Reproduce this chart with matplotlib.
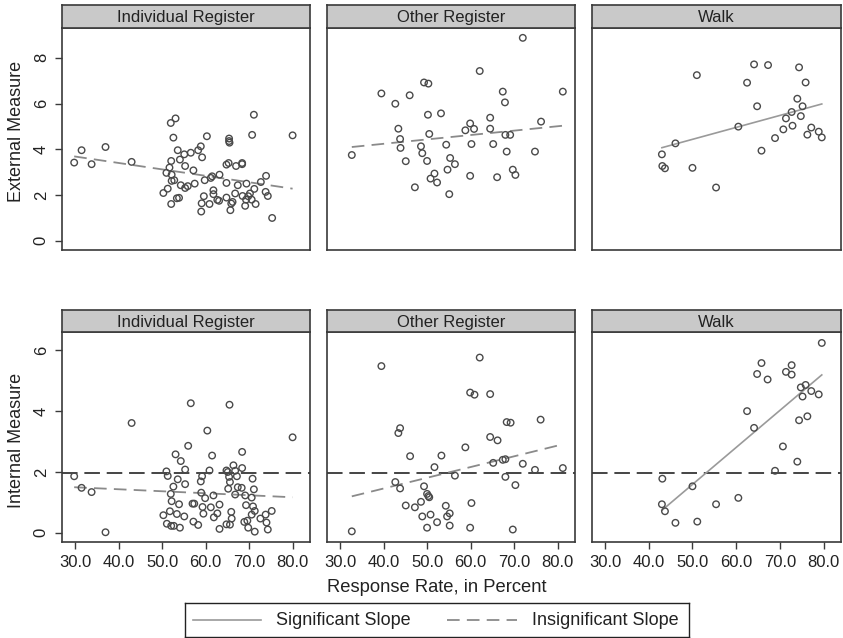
import matplotlib
matplotlib.use("Agg")
import matplotlib.pyplot as plt

plt.rcParams["font.family"] = ["Liberation Sans", "DejaVu Sans"]

W, H = 843, 638

# painel titles
titles = ["Individual Register", "Other Register", "Walk"]

# ---- External measure (top row) ----
ext_ind_x = [29.8, 31.5, 33.8, 37.0, 43.0, 50.3, 51.3, 52.0, 53.1, 52.6, 53.6, 52.1, 51.0, 51.7, 52.2,
             52.8, 52.2, 53.4, 53.9, 52.1, 54.1, 55.1, 55.3, 54.3, 55.3, 55.9, 56.6, 57.2, 57.5, 58.3,
             58.9, 59.2, 59.8, 60.3, 59.6, 59.1, 59.0, 60.9, 61.8, 61.8, 61.2, 61.5, 63.2, 62.7, 63.1,
             64.8, 64.8, 64.8, 65.3, 65.4, 65.4, 65.5, 65.9, 65.7, 66.2, 66.8, 67.0, 67.4, 68.4, 68.4,
             68.5, 69.1, 69.4, 69.3, 69.8, 70.2, 70.6, 70.7, 71.1, 71.2, 71.5, 72.7, 73.9, 73.8, 74.3,
             75.3, 80.0]
ext_ind_y = [3.42, 3.96, 3.35, 4.10, 3.45, 2.09, 2.28, 5.15, 5.35, 4.51, 3.96, 3.49, 2.97, 3.20, 2.89,
             2.65, 2.62, 1.86, 1.88, 1.61, 3.55, 3.78, 3.27, 2.43, 2.31, 2.39, 3.85, 3.08, 2.50, 3.96,
             4.13, 3.65, 2.65, 4.57, 1.95, 1.64, 1.28, 1.61, 2.21, 2.04, 2.75, 2.82, 2.89, 1.79, 1.75,
             1.89, 2.53, 3.33, 3.40, 4.47, 4.36, 4.29, 1.63, 1.34, 1.70, 2.07, 3.27, 2.43, 3.40, 3.35,
             1.96, 1.53, 2.50, 1.80, 1.95, 2.07, 1.80, 4.63, 5.51, 2.27, 1.61, 2.57, 2.84, 2.14, 1.96,
             1.00, 4.61]

ext_oth_x = [32.7, 39.5, 42.7, 46.0, 43.4, 43.8, 43.9, 45.1, 47.2, 49.3, 50.3, 50.2, 50.5, 48.6, 48.9,
             50.0, 51.7, 50.8, 52.3, 53.2, 54.4, 55.3, 56.4, 54.7, 55.1, 58.8, 59.9, 60.8, 60.2, 59.9,
             62.1, 64.5, 64.5, 65.2, 66.1, 67.4, 67.9, 68.0, 69.1, 68.3, 69.7, 70.3, 72.0, 74.8, 76.2,
             81.2]
ext_oth_y = [3.75, 6.44, 5.99, 6.36, 4.90, 4.45, 4.06, 3.48, 2.34, 6.92, 6.87, 5.51, 4.67, 4.13, 3.83,
             3.49, 2.94, 2.72, 2.55, 5.57, 4.20, 3.62, 3.35, 3.11, 2.04, 4.83, 5.13, 4.89, 4.23, 2.84,
             7.42, 5.38, 4.90, 4.23, 2.78, 6.52, 6.05, 4.63, 4.63, 3.90, 3.11, 2.88, 8.87, 3.90, 5.21,
             6.52]

ext_walk_x = [43.0, 43.1, 43.7, 46.1, 50.0, 51.0, 55.4, 60.5, 62.5, 64.1, 64.8, 65.8, 67.3, 68.9, 70.8,
              71.4, 72.7, 72.9, 74.0, 74.4, 74.8, 75.2, 75.9, 76.3, 77.2, 78.9, 79.6]
ext_walk_y = [3.78, 3.27, 3.17, 4.26, 3.19, 7.24, 2.33, 4.99, 6.91, 7.71, 5.88, 3.94, 7.68, 4.49, 4.87,
              5.35, 5.63, 5.03, 6.21, 7.58, 5.45, 5.88, 6.92, 4.64, 4.95, 4.77, 4.52]

# ---- Internal measure (bottom row) ----
int_ind_x = [29.8, 31.5, 33.8, 37.0, 43.0, 50.3, 51.0, 51.3, 51.1, 52.0, 52.2, 51.8, 52.6, 53.1, 53.6,
             53.4, 53.9, 52.1, 52.7, 54.1, 54.3, 55.3, 55.3, 55.1, 56.0, 56.6, 57.0, 57.4, 57.2, 58.3,
             58.9, 59.2, 59.0, 59.3, 59.5, 59.9, 60.4, 60.9, 61.5, 61.8, 61.2, 61.9, 62.7, 63.2, 63.2,
             64.8, 65.1, 65.5, 65.4, 65.2, 65.6, 65.9, 66.0, 64.8, 65.6, 66.4, 66.8, 66.8, 67.2, 67.4,
             68.3, 68.4, 68.4, 69.1, 69.3, 68.9, 69.6, 69.8, 70.6, 70.8, 71.1, 70.6, 70.9, 71.3, 71.3,
             72.6, 73.8, 74.0, 74.3, 75.2, 80.0]
int_ind_y = [1.86, 1.48, 1.34, 0.02, 3.61, 0.58, 2.02, 1.87, 0.30, 1.28, 1.04, 0.71, 1.52, 2.58, 1.76,
             0.62, 0.94, 0.23, 0.23, 0.17, 2.36, 2.08, 1.60, 0.54, 2.86, 4.26, 0.96, 0.96, 0.37, 0.26,
             1.69, 1.86, 1.32, 0.85, 0.63, 1.14, 3.36, 2.05, 2.54, 1.23, 0.84, 0.51, 0.64, 0.93, 0.13,
             2.05, 2.00, 4.21, 1.84, 1.45, 1.67, 0.69, 0.47, 0.28, 0.27, 2.22, 2.04, 1.26, 1.86, 1.50,
             1.48, 2.66, 2.13, 1.23, 0.91, 0.36, 0.40, 0.17, 1.16, 1.78, 1.43, 0.60, 0.87, 0.72, 0.04,
             0.47, 0.60, 0.34, 0.11, 0.72, 3.14]

int_oth_x = [32.7, 39.5, 42.7, 43.8, 43.4, 43.8, 45.1, 46.1, 47.2, 48.6, 48.9, 49.3, 50.0, 50.3, 50.5,
             50.0, 50.8, 51.7, 52.3, 53.3, 54.3, 55.2, 54.6, 55.2, 56.4, 58.8, 59.9, 60.9, 60.2, 59.9,
             62.1, 64.5, 64.5, 66.2, 65.2, 67.4, 68.0, 68.0, 68.3, 69.2, 70.3, 69.7, 72.0, 74.8, 76.1,
             81.2]
int_oth_y = [0.05, 5.48, 1.67, 1.46, 3.28, 3.44, 0.90, 2.52, 0.84, 1.02, 0.54, 1.53, 1.28, 1.21, 1.17,
             0.17, 0.60, 2.16, 0.35, 2.54, 0.89, 0.64, 0.54, 0.24, 1.88, 2.81, 4.61, 4.54, 0.98, 0.17,
             5.76, 4.56, 3.15, 3.04, 2.30, 2.40, 2.42, 1.84, 3.64, 3.62, 1.57, 0.11, 2.27, 2.07, 3.72,
             2.13]

int_walk_x = [43.1, 43.0, 43.7, 46.1, 50.0, 51.1, 55.4, 60.5, 62.5, 64.1, 64.8, 65.8, 67.2, 68.9, 70.7,
              71.4, 72.7, 72.7, 74.0, 74.4, 74.8, 75.2, 75.9, 76.3, 77.2, 78.9, 79.6]
int_walk_y = [1.78, 0.94, 0.71, 0.33, 1.53, 0.37, 0.94, 1.15, 4.00, 3.45, 5.22, 5.58, 5.04, 2.04, 2.84,
              5.29, 5.51, 5.20, 2.34, 3.70, 4.78, 4.48, 4.86, 3.83, 4.66, 4.55, 6.24]

# fitted lines (value at the lowest and highest response rate) and significance
ext_fit = [(3.69, 2.28), (4.10, 5.03), (4.07, 5.98)]
int_fit = [(1.50, 1.17), (1.20, 2.91), (0.74, 5.19)]
ext_sig = [False, False, True]
int_sig = [False, False, True]
ref_line = 1.96

ext_data = [(ext_ind_x, ext_ind_y), (ext_oth_x, ext_oth_y), (ext_walk_x, ext_walk_y)]
int_data = [(int_ind_x, int_ind_y), (int_oth_x, int_oth_y), (int_walk_x, int_walk_y)]

xticks = [30, 40, 50, 60, 70, 80]
legend_labels = ["Significant Slope", "Insignificant Slope"]

fig = plt.figure(figsize=(W / 100, H / 100), dpi=100)


def box(l, t, r, b):
    return [l / W, 1 - b / H, (r - l) / W, (b - t) / H]


cols = [(62, 310), (327, 575), (592, 841)]
rows = [(5, 28, 250), (310, 332, 542)]
frame_col = "#3a3a3a"
txt_col = "#222222"
sig_style = dict(color="#9a9a9a", lw=1.2)
insig_style = dict(color="#8a8a8a", lw=1.3, dashes=(7, 4))

for ri, (strip_top, plot_top, plot_bot) in enumerate(rows):
    data = ext_data if ri == 0 else int_data
    fits = ext_fit if ri == 0 else int_fit
    sigs = ext_sig if ri == 0 else int_sig
    for ci, (l, r) in enumerate(cols):
        ax = fig.add_axes(box(l, plot_top, r, plot_bot))
        xs, ys = data[ci]
        ax.scatter(xs, ys, s=22, facecolors="none", edgecolors="#4a4a4a", linewidths=1.0, zorder=3)
        x0, x1 = min(xs), max(xs)
        if sigs[ci]:
            ax.plot([x0, x1], fits[ci], zorder=2, **sig_style)
        else:
            ax.plot([x0, x1], fits[ci], zorder=2, **insig_style)
        if ri == 1:
            ax.axhline(ref_line, color="#444444", lw=1.4, dashes=(8, 3.5), zorder=1)
            ax.set_ylim(-0.3, 6.6)
            ax.set_yticks([0, 2, 4, 6])
        else:
            ax.set_ylim(-0.4, 9.3)
            ax.set_yticks([0, 2, 4, 6, 8])
        ax.set_xlim(27, 84)
        ax.set_xticks(xticks)
        ax.set_xticklabels(["%.1f" % v for v in xticks])
        for s in ax.spines.values():
            s.set_color(frame_col)
            s.set_linewidth(1.2)
        ax.tick_params(colors=frame_col, labelcolor=txt_col, labelsize=12, length=5, width=1, pad=4.5)
        if ri == 0:
            ax.tick_params(axis="x", bottom=False, labelbottom=False)
        if ci != 0:
            ax.tick_params(axis="y", left=False, labelleft=False)
        else:
            for lab in ax.get_yticklabels():
                lab.set_rotation(90)
                lab.set_va("center")

        # strip header
        st = fig.add_axes(box(l, strip_top, r, plot_top))
        st.set_facecolor("#c9c9c9")
        st.set_xticks([])
        st.set_yticks([])
        for s in st.spines.values():
            s.set_color(frame_col)
            s.set_linewidth(1.2)
        st.text(0.5, 0.45, titles[ci], ha="center", va="center", fontsize=12, color=txt_col,
                transform=st.transAxes)

fig.text(17 / W, 1 - 131 / H, "External Measure", rotation=90, ha="center", va="center",
         fontsize=13, color=txt_col)
fig.text(17 / W, 1 - 440 / H, "Internal Measure", rotation=90, ha="center", va="center",
         fontsize=13, color=txt_col)
fig.text(437 / W, 1 - 588 / H, "Response Rate, in Percent", ha="center", va="center",
         fontsize=13.2, color=txt_col)

# legend box drawn by hand
lg = fig.add_axes(box(185, 603, 689, 637))
lg.set_xlim(185, 689)
lg.set_ylim(0, 1)
lg.set_xticks([])
lg.set_yticks([])
for s in lg.spines.values():
    s.set_color("#222222")
    s.set_linewidth(1.0)
lg.plot([193, 261], [0.5, 0.5], **sig_style)
lg.text(276, 0.48, legend_labels[0], ha="left", va="center", fontsize=13, color=txt_col)
lg.plot([447, 517], [0.5, 0.5], **insig_style)
lg.text(532, 0.48, legend_labels[1], ha="left", va="center", fontsize=13, color=txt_col)

fig.savefig("out.png", dpi=100, facecolor="white")
